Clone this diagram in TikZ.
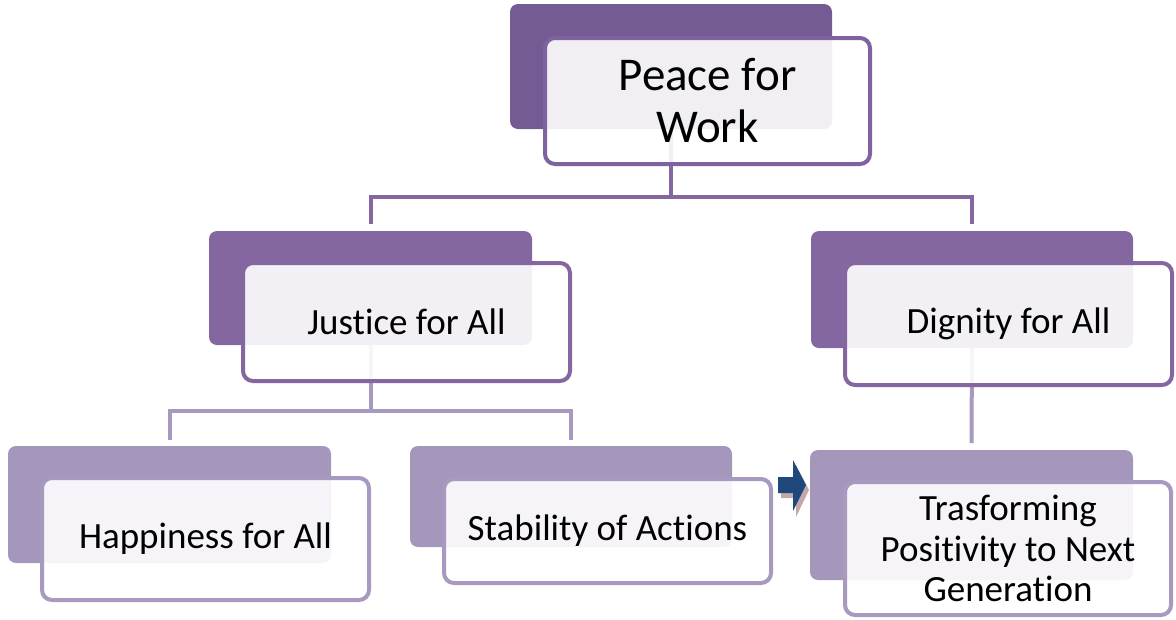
\documentclass[tikz,border=0pt]{standalone}
\usepackage{fontspec}
\setmainfont{Carlito}[Ligatures=NoCommon]
\usetikzlibrary{calc}
\definecolor{pTopC}{HTML}{745B94}
\definecolor{pMidC}{HTML}{8467A0}
\definecolor{pLowC}{HTML}{A596BC}
\definecolor{bTopC}{HTML}{7E63A0}
\definecolor{bMidC}{HTML}{8467A0}
\definecolor{bLowC}{HTML}{A799C0}
\definecolor{arrowC}{HTML}{1F497D}
\definecolor{shadowC}{HTML}{C4A8A8}
\tikzset{
  back/.style={rectangle, rounded corners=8pt, inner sep=0pt, outer sep=0pt},
  front/.style={rectangle, rounded corners=10pt, inner sep=0pt, outer sep=0pt,
    fill=white, fill opacity=0.9, text opacity=1, draw opacity=1,
    line width=4pt, align=center, text=black},
  bigtext/.style={font=\fontsize{47}{52}\selectfont},
  smalltext/.style={font=\fontsize{37}{40.5}\selectfont},
  connA/.style={draw=bMidC, line width=4pt},
  connB/.style={draw=bLowC, line width=4pt},
}
\begin{document}
\begin{tikzpicture}[x=1pt,y=-1pt]
\useasboundingbox (0,0) rectangle (1176,619);
% back rectangles
\node[back, fill=pTopC, minimum width=322, minimum height=125] (pTop) at (671,66.5) {};
\node[back, fill=pMidC, minimum width=323, minimum height=114] (pJ) at (370.5,288) {};
\node[back, fill=pMidC, minimum width=322, minimum height=117] (pD) at (972,289.5) {};
\node[back, fill=pLowC, minimum width=323, minimum height=117] (pH) at (169.5,504.5) {};
\node[back, fill=pLowC, minimum width=322, minimum height=101] (pS) at (571,496.5) {};
\node[back, fill=pLowC, minimum width=323, minimum height=130] (pT) at (971.5,515) {};
% connectors
\coordinate (busA) at (671,197);
\coordinate (busB) at (370.5,411);
\draw[connA] (pTop.south) -- (busA);
\draw[connA] (busA) -| ($(pJ.north)+(0,-7)$);
\draw[connA] (busA) -| ($(pD.north)+(0,-7)$);
\draw[connB] (pJ.south) -- (busB);
\draw[connB] (busB) -| ($(pH.north)+(0,-6)$);
\draw[connB] (busB) -| ($(pS.north)+(0,-6)$);
\draw[connB] (pD.south) -- ($(pT.north)+(0,-7)$);
% front boxes
\node[front, draw=bTopC, bigtext, minimum width=325, minimum height=126] (wTop) at (707.5,101) {Peace for\\Work};
\node[front, draw=bMidC, smalltext, minimum width=327, minimum height=118] (wJ) at (406.5,322) {Justice for All};
\node[front, draw=bMidC, smalltext, minimum width=327, minimum height=122] (wD) at (1008.5,324) {Dignity for All};
\node[front, draw=bLowC, smalltext, minimum width=327, minimum height=122] (wH) at (205.5,539) {Happiness for All};
\node[front, draw=bLowC, smalltext, minimum width=327, minimum height=104] (wS) at (607.5,531) {Stability of Actions};
\node[front, draw=bLowC, smalltext, minimum width=326, minimum height=133] (wT) at (1008,548.5) {Trasforming\\Positivity to Next\\Generation};
% small arrow with shadow
\fill[shadowC] (781,482) -- (796,482) -- (796,465) -- (809,490) -- (796,517) -- (796,498) -- (781,498) -- cycle;
\fill[arrowC] (778,477) -- (793,477) -- (793,460) -- (806,485) -- (793,511) -- (793,493) -- (778,493) -- cycle;
\end{tikzpicture}
\end{document}
